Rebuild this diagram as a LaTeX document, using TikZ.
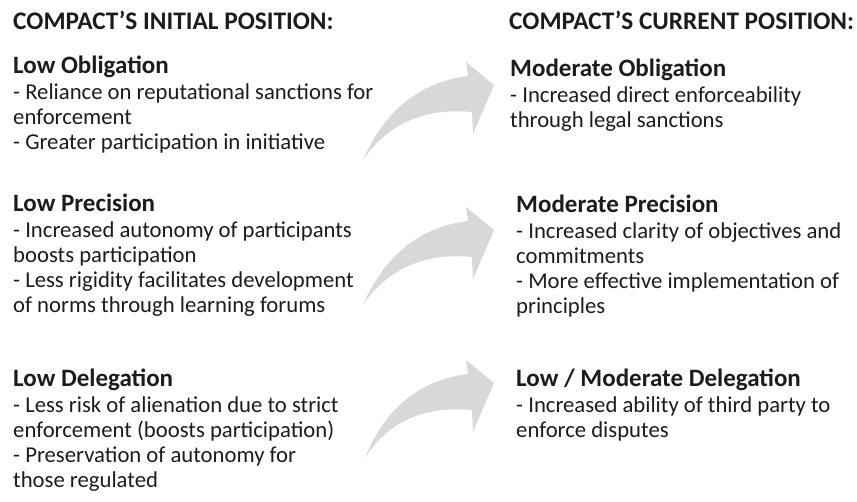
\documentclass[tikz,border=0pt]{standalone}
\usepackage{fontspec}
\setmainfont{Carlito}
\definecolor{arrowgray}{RGB}{216,216,216}
\definecolor{textgray}{RGB}{28,28,28}
\tikzset{
  block/.style={anchor=base west,inner sep=0pt,text=textgray,
    font=\fontsize{22.7}{25}\selectfont},
  headline/.style={block,font=\fontsize{25.3}{25}\selectfont\bfseries},
  bigarrow/.style={fill=arrowgray}
}
\newcommand\blocktext[2]{\begin{tabular}[t]{@{}l@{}}{\fontsize{25}{25}\selectfont\bfseries #1}\\[1pt]#2\end{tabular}}
\begin{document}
\begin{tikzpicture}[x=1pt,y=-1pt]
\useasboundingbox (0,0) rectangle (857,502);
\node[headline] (initial) at (13,30) {COMPACT’S INITIAL POSITION:};
\node[headline] (current) at (509,30) {COMPACT’S CURRENT POSITION:};

\node[block] (lowoblig) at (13,74) {\blocktext{Low Obligation}{- Reliance on reputational sanctions for\\enforcement\\- Greater participation in initiative}};
\node[block] (lowprec) at (13,212) {\blocktext{Low Precision}{- Increased autonomy of participants\\boosts participation\\- Less rigidity facilitates development\\of norms through learning forums}};
\node[block] (lowdeleg) at (13,387) {\blocktext{Low Delegation}{- Less risk of alienation due to strict\\enforcement (boosts participation)\\- Preservation of autonomy for\\those regulated}};

\node[block] (modoblig) at (510,77) {\blocktext{Moderate Obligation}{- Increased direct enforceability\\through legal sanctions}};
\node[block] (modprec) at (516,213) {\blocktext{Moderate Precision}{- Increased clarity of objectives and\\commitments\\- More effective implementation of\\principles}};
\node[block] (moddeleg) at (516,387) {\blocktext{Low / Moderate Delegation}{- Increased ability of third party to\\enforce disputes}};

\fill[bigarrow] (363,160) .. controls (385,110) and (420,82) .. (468,76) -- (466,62) -- (494,85)
   -- (473,134) -- (472,112) .. controls (430,108) and (390,120) .. (363,160) -- cycle;
\fill[bigarrow,shift={(0,145)}] (363,160) .. controls (385,110) and (420,82) .. (468,76) -- (466,62) -- (494,85)
   -- (473,134) -- (472,112) .. controls (430,108) and (390,120) .. (363,160) -- cycle;
\fill[bigarrow,shift={(0,298)}] (365,160) .. controls (385,110) and (420,82) .. (468,76) -- (466,62) -- (494,85)
   -- (473,134) -- (472,112) .. controls (430,108) and (390,120) .. (365,160) -- cycle;
\end{tikzpicture}
\end{document}
